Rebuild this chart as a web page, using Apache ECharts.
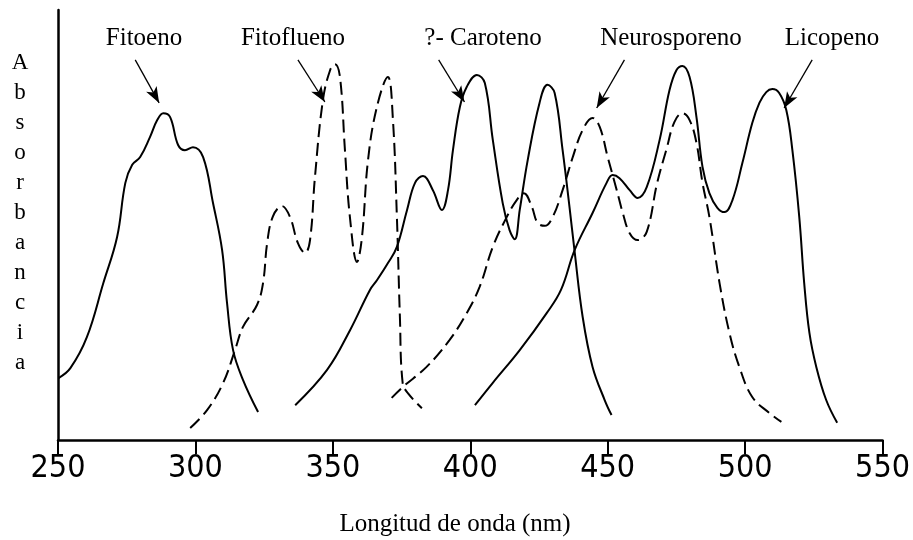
<!DOCTYPE html>
<html>
<head>
<meta charset="utf-8">
<script src="https://cdn.jsdelivr.net/npm/echarts@6/dist/echarts.min.js"></script>
<style>
html,body{margin:0;padding:0;background:#fff;}
#chart{width:913px;height:540px;}
</style>
</head>
<body>
<div id="chart"></div>
<script>
// Wavelength (nm) ticks
const xTicks = [250, 300, 350, 400, 450, 500, 550];
const seriesNames = ['Fitoeno', 'Fitoflueno', '?- Caroteno', 'Neurosporeno', 'Licopeno'];

// [wavelength nm, relative absorbance]
const fitoeno = [
  [250.2,14.4],[254.5,16.7],[260.5,23.9],[266.5,36.5],[271.5,47.2],[274.5,59.8],
  [277.0,64.0],[279.9,65.8],[283.5,70.5],[286.1,74.4],[288.3,76.0],[290.8,75.1],
  [293.7,68.6],[296.2,67.4],[299.1,68.1],[302.8,65.8],[306.4,55.1],[309.7,44.2],
  [311.5,31.9],[313.7,20.9],[317.3,14.0],[322.8,6.5]
];
const fitoflueno = [
  [298.1,2.8],[304.3,7.0],[310.1,13.3],[314.4,20.9],[317.3,26.3],[322.4,31.4],
  [324.6,36.5],[326.1,45.8],[328.2,52.0],[331.5,54.4],[334.4,51.9],[337.3,45.8],
  [339.9,43.5],[341.7,46.5],[343.5,61.2],[346.4,79.1],[349.0,86.0],[350.8,87.4],
  [352.6,84.4],[354.4,67.4],[356.2,51.9],[358.8,41.4],[360.6,47.2],[362.8,65.1],
  [366.0,77.4],[370.0,84.4],[371.8,75.1],[373.3,51.9],[374.4,28.6],[375.4,13.3],
  [377.3,10.9],[382.4,7.4]
];
const zCaroteno = [
  [336.3,8.1],[347.9,16.3],[356.3,25.6],[363.5,34.9],[366.1,37.2],[370.1,41.2],
  [373.3,44.9],[377.0,53.5],[379.9,59.8],[382.8,61.4],[386.4,58.1],[389.7,53.5],
  [391.9,58.1],[393.7,67.4],[396.2,77.4],[398.7,82.1],[402.4,84.9],[405.3,83.0],
  [408.2,69.8],[411.8,55.1],[414.3,48.8],[416.2,46.7],[418.0,53.5],[420.9,65.1],
  [425.2,78.4],[428.1,82.6],[430.7,80.7],[433.6,67.4],[436.1,54.2],[437.9,44.2],
  [440.9,28.6],[444.5,17.0],[448.9,9.3],[451.4,5.8]
];
const neurosporeno = [
  [371.4,9.8],[375.4,12.3],[384.1,17.0],[392.5,23.3],[398.7,29.5],[403.4,35.6],
  [408.2,44.9],[413.3,51.9],[416.9,55.8],[419.5,57.4],[422.4,54.2],[424.5,50.5],
  [427.1,49.8],[430.0,51.9],[433.6,58.1],[437.3,65.8],[440.9,72.1],[444.5,74.9],
  [447.1,72.8],[450.0,65.8],[453.3,58.1],[455.5,52.8],[458.0,48.1],[460.9,46.5],
  [464.2,48.4],[468.0,59.8],[471.3,67.4],[474.3,74.0],[477.2,76.0],[479.8,74.4],
  [482.3,69.1],[484.5,59.8],[487.0,51.9],[490.7,36.5],[494.3,24.9],[497.9,17.0],
  [502.6,10.0],[508.8,6.3],[513.2,4.2]
];
const licopeno = [
  [401.7,8.1],[408.2,13.3],[418.0,20.9],[427.8,29.5],[433.0,34.9],[438.0,44.2],
  [444.5,52.8],[449.6,59.8],[451.8,61.6],[454.3,60.9],[458.0,58.1],[460.9,56.3],
  [464.2,58.8],[468.9,69.8],[472.5,81.4],[475.0,86.0],[477.2,87.0],[479.8,84.4],
  [482.3,75.1],[484.5,63.5],[487.0,57.4],[489.9,54.0],[492.5,53.0],[495.4,55.8],
  [499.0,64.4],[502.6,73.7],[505.2,78.4],[507.7,80.9],[509.9,81.6],[512.4,80.7],
  [515.0,76.7],[517.2,67.4],[519.7,51.9],[521.5,36.5],[523.4,24.9],[525.9,17.0],
  [529.5,9.3],[533.5,4.0]
];
// Arrow annotations: [label x, label y] -> [tip x, tip y] in data units
const arrows = [
  [[278.1,88.4],[286.8,78.4]],
  [[337.3,88.4],[347.1,78.6]],
  [[388.5,88.4],[397.9,78.6]],
  [[456.1,88.4],[446.0,77.2]],
  [[524.4,88.4],[514.2,77.2]]
];
const labelPos = [[144,38],[293,38],[483,38],[671,38],[832,38]];
const yLetters = ['A','b','s','o','r','b','a','n','c','i','a'];

const chart = echarts.init(document.getElementById('chart'), null, {renderer:'canvas'});

const solid = {color:'#000', width:2, type:'solid'};
const dashed = {color:'#000', width:2, type:[13,6]};

function mkSeries(name, data, style){
  return {
    name, type:'line', data, smooth:0.4, showSymbol:false, symbol:'none',
    lineStyle:style, animation:false, z:2
  };
}
const seriesList = [
  mkSeries(seriesNames[0], fitoeno, solid),
  mkSeries(seriesNames[1], fitoflueno, dashed),
  mkSeries(seriesNames[2], zCaroteno, solid),
  mkSeries(seriesNames[3], neurosporeno, dashed),
  mkSeries(seriesNames[4], licopeno, solid)
];
seriesList[0].markLine = {
  silent:true, animation:false,
  symbol:['none','arrow'], symbolSize:[9,16],
  lineStyle:{color:'#000', width:1.3, type:'solid'},
  label:{show:false},
  data: arrows.map(a => [{coord:a[0]},{coord:a[1]}])
};

const graphics = [];
seriesNames.forEach((n,i)=>{
  graphics.push({type:'text', x:labelPos[i][0], y:labelPos[i][1],
    style:{text:n, font:'25px "Liberation Serif"', fill:'#000', textAlign:'center', textVerticalAlign:'middle'}});
});
yLetters.forEach((c,i)=>{
  graphics.push({type:'text', x:20, y:63 + i*30,
    style:{text:c, font:'23px "Liberation Serif"', fill:'#000', textAlign:'center', textVerticalAlign:'middle'}});
});
graphics.push({type:'text', x:455, y:524,
  style:{text:'Longitud de onda (nm)', font:'25px "Liberation Serif"', fill:'#000', textAlign:'center', textVerticalAlign:'middle'}});

chart.setOption({
  backgroundColor:'#fff',
  animation:false,
  grid:{left:58, right:30, top:10, bottom:100, containLabel:false},
  xAxis:{
    type:'value', min:250, max:550, interval:50,
    axisLine:{show:true, onZero:false, lineStyle:{color:'#000', width:2.5}},
    axisTick:{show:true, inside:false, length:14, lineStyle:{color:'#000', width:2}},
    axisLabel:{show:true, color:'#000', margin:13, fontFamily:'"DejaVu Sans Condensed", sans-serif', fontSize:32,
      formatter:(v)=> xTicks.includes(v) ? String(v) : ''},
    splitLine:{show:false}
  },
  yAxis:{
    type:'value', min:0, max:100,
    axisLine:{show:true, lineStyle:{color:'#000', width:2.5}},
    axisTick:{show:false}, axisLabel:{show:false}, splitLine:{show:false}
  },
  series: seriesList,
  graphic: graphics
});
</script>
</body>
</html>
